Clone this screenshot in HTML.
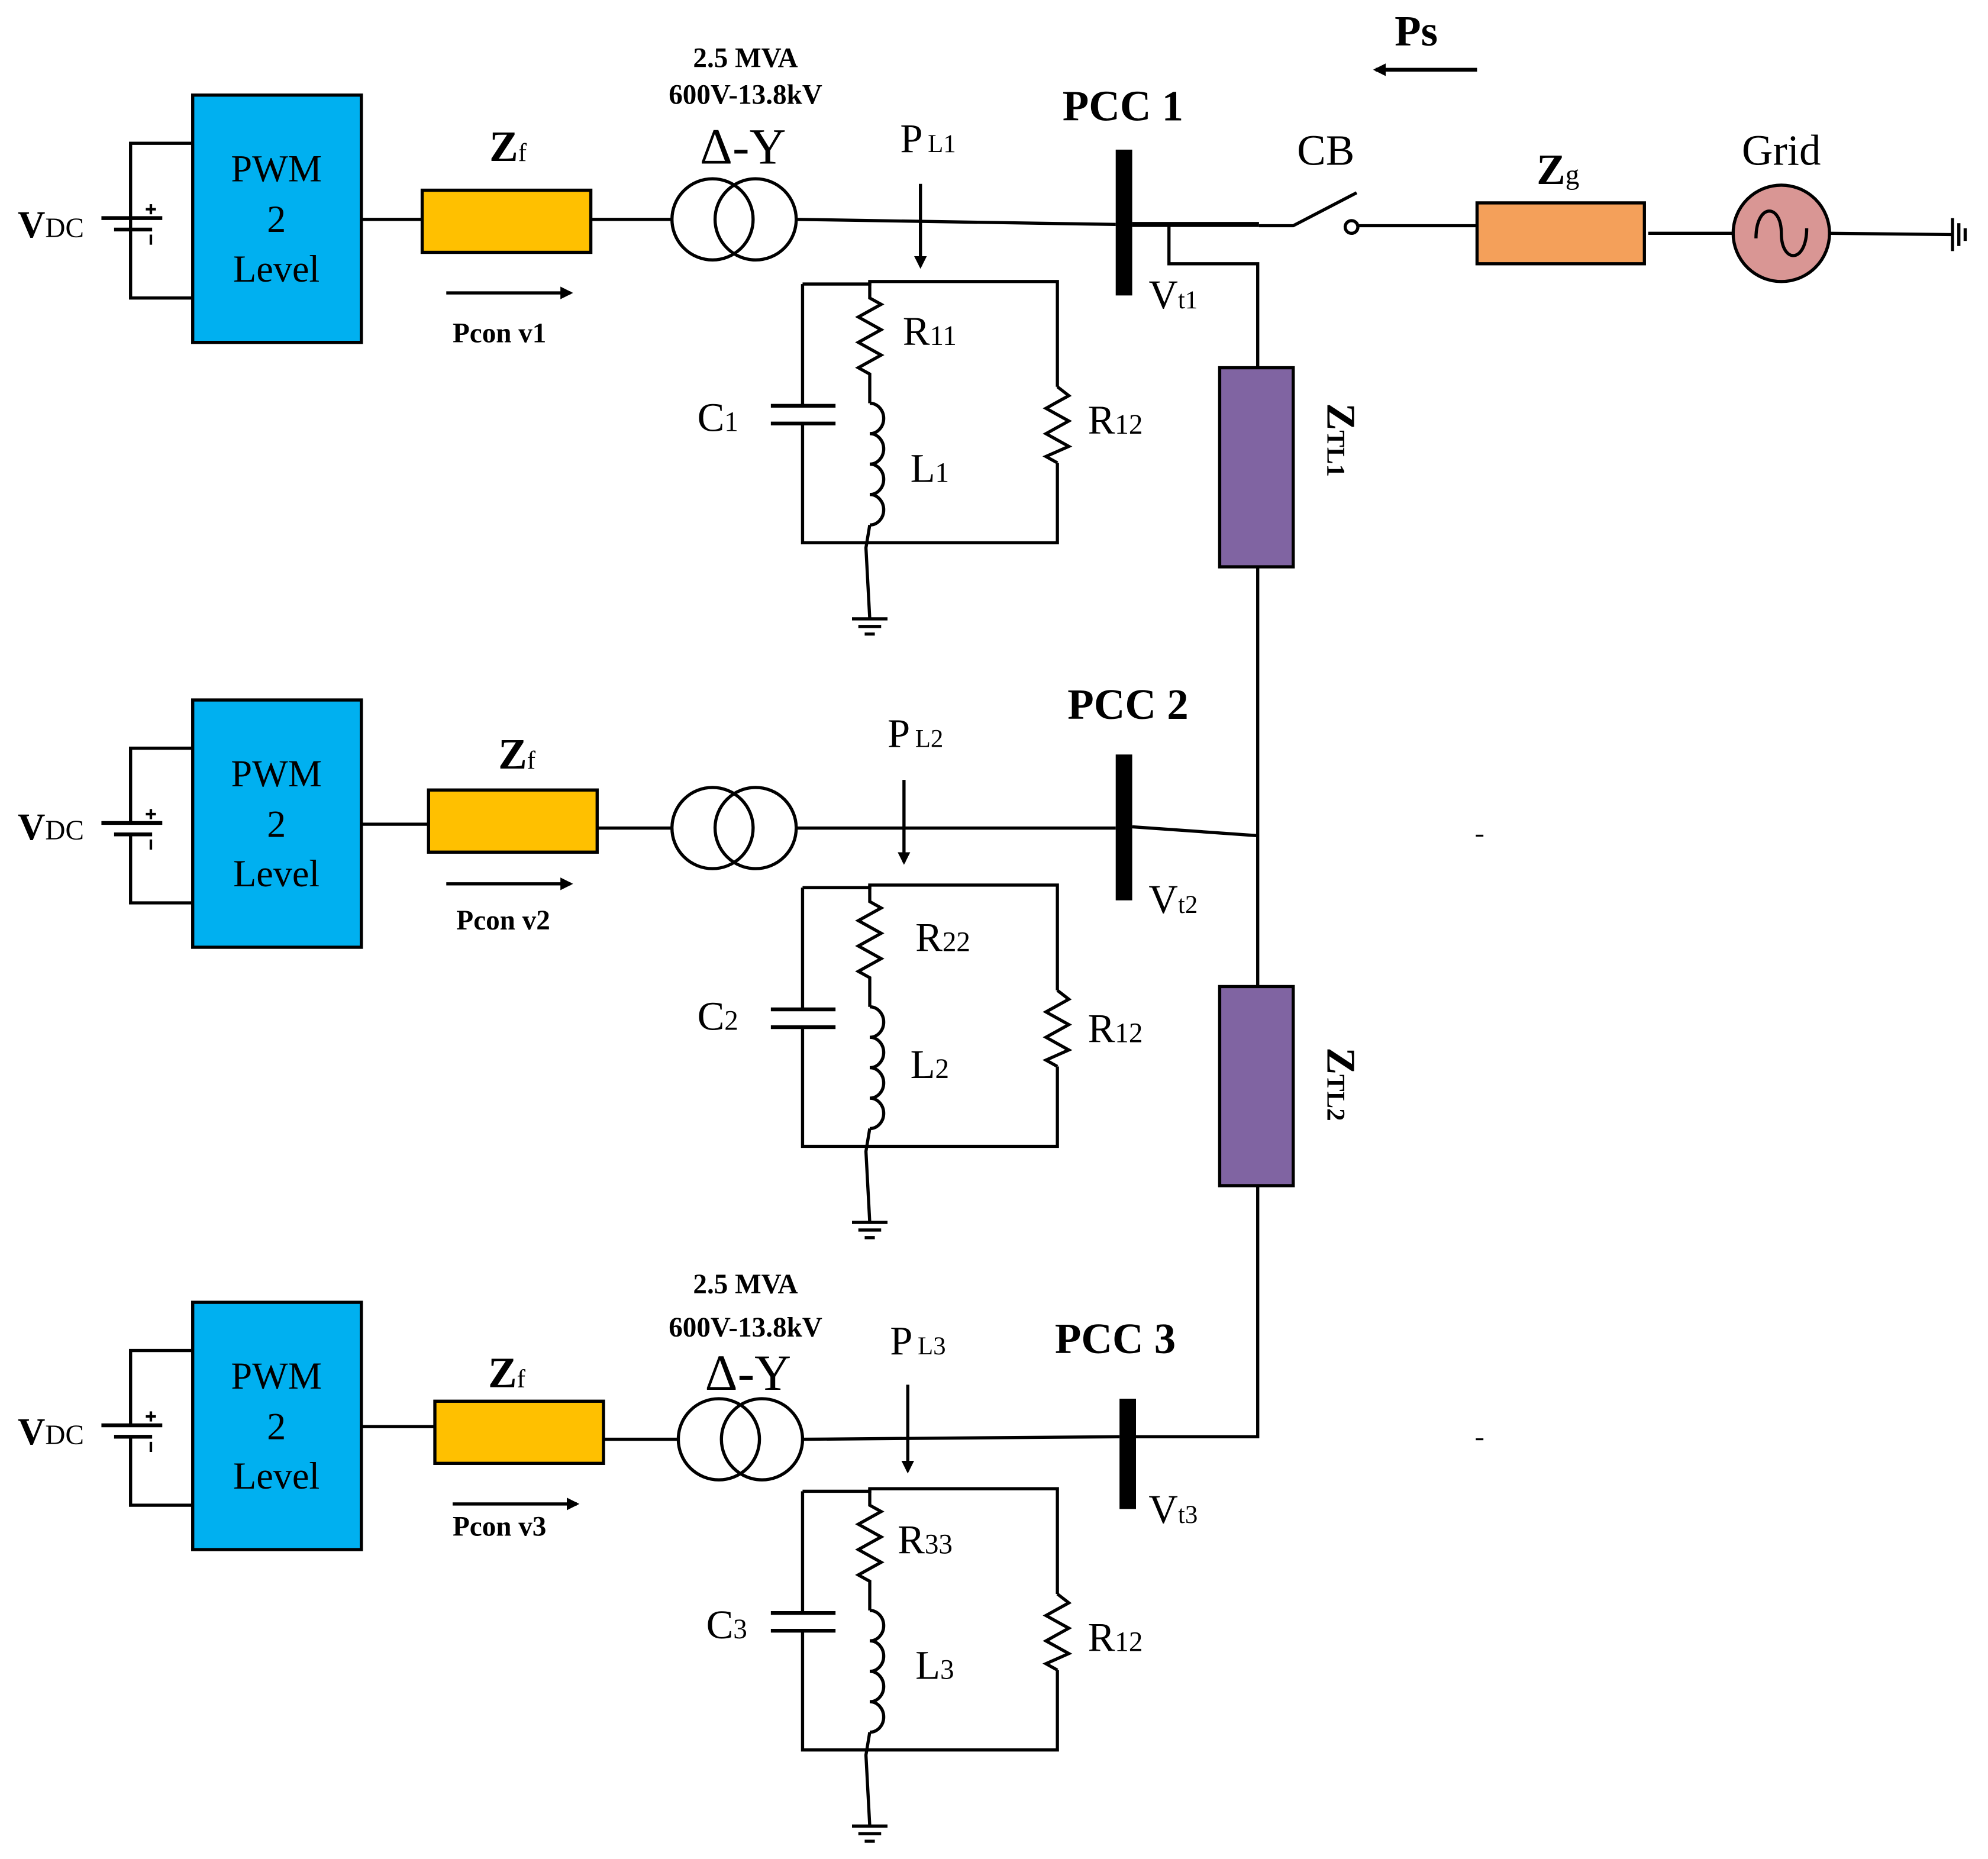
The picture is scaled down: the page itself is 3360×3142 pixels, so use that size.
<!DOCTYPE html>
<html><head><meta charset="utf-8"><style>
html,body{margin:0;padding:0;background:#fff;}
svg{display:block;}
text{font-family:"Liberation Serif",serif;fill:#000;}
</style></head><body>
<svg width="3360" height="3142" viewBox="0 0 1568 1466" preserveAspectRatio="none" xmlns="http://www.w3.org/2000/svg">
<defs>
<marker id="ah" markerWidth="10" markerHeight="10" refX="8" refY="5" orient="auto" markerUnits="userSpaceOnUse">
<path d="M0,0 L10,5 L0,10 Z" fill="#000"/></marker>
</defs>
<g stroke="#000" stroke-width="2.5" fill="none">

<g id="b1">
<polyline points="152,113 103,113 103,235 152,235"/>
<line x1="80" y1="172" x2="128" y2="172" stroke-width="3"/>
<line x1="90" y1="181" x2="120" y2="181" stroke-width="3"/>
<line x1="115" y1="165" x2="123" y2="165" stroke-width="2"/><line x1="119" y1="161" x2="119" y2="169" stroke-width="2"/>
<line x1="119" y1="185" x2="119" y2="193" stroke-width="2"/>
<rect x="152" y="75" width="133" height="195" fill="#00B0F0"/>
<line x1="285" y1="173" x2="333" y2="173"/>
<rect x="333" y="150" width="133" height="49" fill="#FFC000"/>
<line x1="466" y1="173" x2="530" y2="173"/>
<circle cx="562" cy="173" r="32"/><circle cx="596" cy="173" r="32"/>
<line x1="352" y1="231" x2="450" y2="231" marker-end="url(#ah)"/>
</g>
<g transform="translate(0,477)">
<polyline points="152,113 103,113 103,172"/><polyline points="103,181 103,235 152,235"/>
<line x1="80" y1="172" x2="128" y2="172" stroke-width="3"/>
<line x1="90" y1="181" x2="120" y2="181" stroke-width="3"/>
<line x1="115" y1="165" x2="123" y2="165" stroke-width="2"/><line x1="119" y1="161" x2="119" y2="169" stroke-width="2"/>
<line x1="119" y1="185" x2="119" y2="193" stroke-width="2"/>
<rect x="152" y="75" width="133" height="195" fill="#00B0F0"/>
<line x1="285" y1="173" x2="338" y2="173"/>
<rect x="338" y="146" width="133" height="49" fill="#FFC000"/>
<line x1="471" y1="176" x2="530" y2="176"/>
<circle cx="562" cy="176" r="32"/><circle cx="596" cy="176" r="32"/>
<line x1="352" y1="220" x2="450" y2="220" marker-end="url(#ah)"/>
</g>
<g transform="translate(0,952)">
<polyline points="152,113 103,113 103,172"/><polyline points="103,181 103,235 152,235"/>
<line x1="80" y1="172" x2="128" y2="172" stroke-width="3"/>
<line x1="90" y1="181" x2="120" y2="181" stroke-width="3"/>
<line x1="115" y1="165" x2="123" y2="165" stroke-width="2"/><line x1="119" y1="161" x2="119" y2="169" stroke-width="2"/>
<line x1="119" y1="185" x2="119" y2="193" stroke-width="2"/>
<rect x="152" y="75" width="133" height="195" fill="#00B0F0"/>
<line x1="285" y1="173" x2="343" y2="173"/>
<rect x="343" y="153" width="133" height="49" fill="#FFC000"/>
<line x1="476" y1="183" x2="535" y2="183"/>
<circle cx="567" cy="183" r="32"/><circle cx="601" cy="183" r="32"/>
<line x1="357" y1="234" x2="455" y2="234" marker-end="url(#ah)"/>
</g>

<g id="ld">
<polyline points="633,224 686,224 686,222 834,222 834,305"/>
<polyline points="633,224 633,320"/><polyline points="633,334 633,428 834,428 834,365"/>
<line x1="608" y1="320" x2="659" y2="320" stroke-width="3"/><line x1="608" y1="334" x2="659" y2="334" stroke-width="3"/>
<polyline points="834,305 843,312 825,322 843,332 825,342 843,352 825,360 834,365"/>
<polyline points="686,222 686,235 695,240 677,250 695,260 677,270 695,280 677,290 686,295 686,318"/>
<path d="M686,318 a11,12 0 0 1 0,24 a11,12 0 0 1 0,24 a11,12 0 0 1 0,24 a11,12 0 0 1 0,24"/>
<polyline points="686,414 683,432 686,488"/>
<line x1="672" y1="488" x2="700" y2="488"/><line x1="677" y1="494" x2="695" y2="494"/><line x1="682" y1="500" x2="690" y2="500"/>
</g>
<use href="#ld" transform="translate(0,476)"/>
<use href="#ld" transform="translate(0,952)"/>

<line x1="726" y1="145" x2="726" y2="210" marker-end="url(#ah)"/>
<line x1="713" y1="615" x2="713" y2="680" marker-end="url(#ah)"/>
<line x1="716" y1="1092" x2="716" y2="1160" marker-end="url(#ah)"/>

<line x1="628" y1="173" x2="880" y2="177"/>
<line x1="628" y1="653" x2="880" y2="653"/>
<line x1="633" y1="1135" x2="883" y2="1133"/>
<rect x="880" y="118" width="13" height="115" fill="#000" stroke="none"/>
<rect x="880" y="595" width="13" height="115" fill="#000" stroke="none"/>
<rect x="883" y="1103" width="13" height="87" fill="#000" stroke="none"/>

<line x1="893" y1="177" x2="993" y2="177" stroke-width="4"/>
<polyline points="993,178 1020,178 1070,152"/>
<circle cx="1066" cy="179" r="5"/>
<line x1="1071" y1="178" x2="1165" y2="178"/>
<rect x="1165" y="160" width="132" height="48" fill="#F4A05A"/>
<line x1="1300" y1="184" x2="1367" y2="184"/>
<circle cx="1405" cy="184" r="38" fill="#D99694"/>
<path d="M1385,188 C1385,160 1405,160 1405,184 C1405,208 1425,208 1425,180" stroke-width="2.5"/>
<line x1="1443" y1="184" x2="1540" y2="185"/>
<line x1="1540" y1="172" x2="1540" y2="198"/><line x1="1545" y1="176" x2="1545" y2="194"/><line x1="1550" y1="180" x2="1550" y2="190"/>
<line x1="1165" y1="55" x2="1085" y2="55" marker-end="url(#ah)" stroke-width="3"/>

<polyline points="922,177 922,208 992,208 992,290"/>
<rect x="962" y="290" width="58" height="157" fill="#8064A2"/>
<line x1="992" y1="447" x2="992" y2="778"/>
<line x1="893" y1="652" x2="992" y2="659"/>
<rect x="962" y="778" width="58" height="157" fill="#8064A2"/>
<polyline points="992,935 992,1133 896,1133"/>
<line x1="1164" y1="659" x2="1170" y2="659" stroke-width="1.5"/>
<line x1="1164" y1="1135" x2="1170" y2="1135" stroke-width="1.5"/>
</g>

<g font-size="30" text-anchor="middle">
<text x="218" y="143">PWM</text><text x="218" y="183">2</text><text x="218" y="222">Level</text>
<text x="218" y="620">PWM</text><text x="218" y="660">2</text><text x="218" y="699">Level</text>
<text x="218" y="1095">PWM</text><text x="218" y="1135">2</text><text x="218" y="1174">Level</text>
</g>
<g>
<text x="14" y="187" font-size="30"><tspan font-weight="bold">V</tspan><tspan font-size="22">DC</tspan></text>
<text x="14" y="662" font-size="30"><tspan font-weight="bold">V</tspan><tspan font-size="22">DC</tspan></text>
<text x="14" y="1139" font-size="30"><tspan font-weight="bold">V</tspan><tspan font-size="22">DC</tspan></text>

<text x="386" y="127" font-size="34" font-weight="bold">Z<tspan font-size="20" font-weight="normal">f</tspan></text>
<text x="393" y="606" font-size="34" font-weight="bold">Z<tspan font-size="20" font-weight="normal">f</tspan></text>
<text x="385" y="1094" font-size="34" font-weight="bold">Z<tspan font-size="20" font-weight="normal">f</tspan></text>

<text x="357" y="270" font-size="22" font-weight="bold">Pcon v1</text>
<text x="360" y="733" font-size="22" font-weight="bold">Pcon v2</text>
<text x="357" y="1211" font-size="22" font-weight="bold">Pcon v3</text>

<g text-anchor="middle" font-weight="bold" font-size="22">
<text x="588" y="53">2.5 MVA</text><text x="588" y="82">600V-13.8kV</text>
<text x="588" y="1020">2.5 MVA</text><text x="588" y="1054">600V-13.8kV</text>
</g>
<g text-anchor="middle" font-size="40">
<text x="586" y="129">Δ-Y</text><text x="590" y="1096">Δ-Y</text>
</g>

<text x="710" y="120" font-size="32">P<tspan font-size="20" dx="4">L1</tspan></text>
<text x="700" y="589" font-size="32">P<tspan font-size="20" dx="4">L2</tspan></text>
<text x="702" y="1068" font-size="32">P<tspan font-size="20" dx="4">L3</tspan></text>

<text x="838" y="95" font-size="34" font-weight="bold">PCC 1</text>
<text x="842" y="567" font-size="34" font-weight="bold">PCC 2</text>
<text x="832" y="1067" font-size="34" font-weight="bold">PCC 3</text>

<text x="906" y="243" font-size="32">V<tspan font-size="20">t1</tspan></text>
<text x="906" y="720" font-size="32">V<tspan font-size="20">t2</tspan></text>
<text x="906" y="1201" font-size="32">V<tspan font-size="20">t3</tspan></text>

<text x="712" y="272" font-size="32">R<tspan font-size="22">11</tspan></text>
<text x="722" y="750" font-size="32">R<tspan font-size="22">22</tspan></text>
<text x="708" y="1225" font-size="32">R<tspan font-size="22">33</tspan></text>
<text x="858" y="342" font-size="32">R<tspan font-size="22">12</tspan></text>
<text x="858" y="822" font-size="32">R<tspan font-size="22">12</tspan></text>
<text x="858" y="1302" font-size="32">R<tspan font-size="22">12</tspan></text>
<text x="550" y="340" font-size="32">C<tspan font-size="22">1</tspan></text>
<text x="550" y="812" font-size="32">C<tspan font-size="22">2</tspan></text>
<text x="557" y="1292" font-size="32">C<tspan font-size="22">3</tspan></text>
<text x="718" y="380" font-size="32">L<tspan font-size="22">1</tspan></text>
<text x="718" y="850" font-size="32">L<tspan font-size="22">2</tspan></text>
<text x="722" y="1324" font-size="32">L<tspan font-size="22">3</tspan></text>

<text x="1023" y="130" font-size="34">CB</text>
<text x="1212" y="145" font-size="34" font-weight="bold">Z<tspan font-size="22" font-weight="normal">g</tspan></text>
<text x="1405" y="130" font-size="34" text-anchor="middle">Grid</text>
<text x="1100" y="36" font-size="34" font-weight="bold">Ps</text>

<text transform="translate(1047,318) rotate(90)" font-size="32" font-weight="bold">Z<tspan font-size="20">TL1</tspan></text>
<text transform="translate(1047,826) rotate(90)" font-size="32" font-weight="bold">Z<tspan font-size="20">TL2</tspan></text>
</g>
</svg>
</body></html>
